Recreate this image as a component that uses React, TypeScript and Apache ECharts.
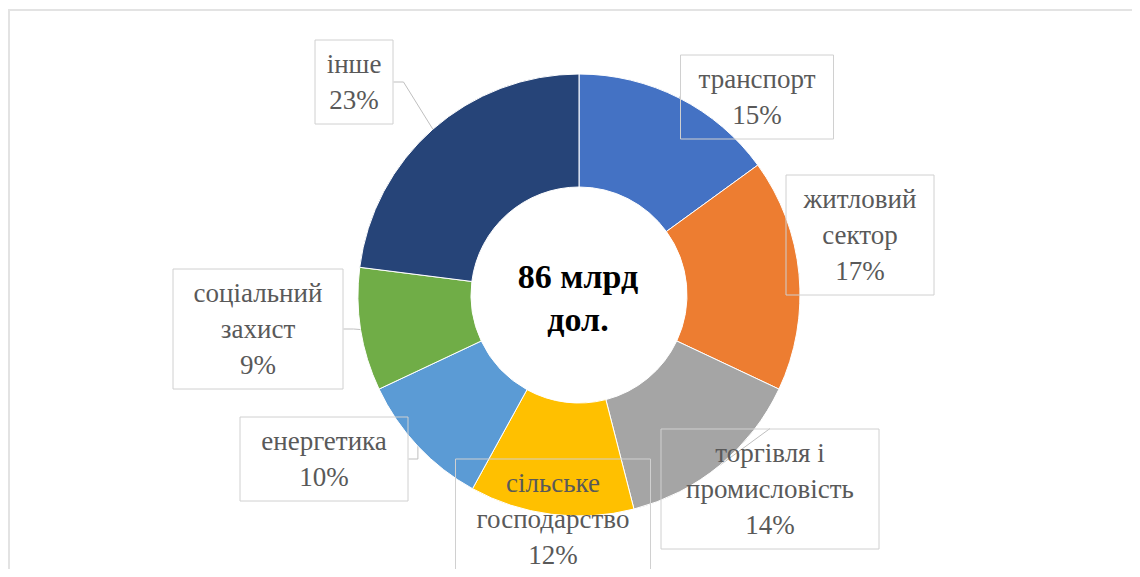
import React, { useEffect, useRef } from "react";
import * as echarts from "echarts";

const categories = [
  "транспорт",
  "житловий сектор",
  "торгівля і промисловість",
  "сільське господарство",
  "енергетика",
  "соціальний захист",
  "інше",
];
const categoryLabels = [
  "транспорт",
  "житловий\nсектор",
  "торгівля і\nпромисловість",
  "сільське\nгосподарство",
  "енергетика",
  "соціальний\nзахист",
  "інше",
];
const shares = [15, 17, 14, 12, 10, 9, 23];
const centerLines = ["86 млрд", "дол."];

const colors = ["#4472C4", "#ED7D31", "#A5A5A5", "#FFC000", "#5B9BD5", "#70AD47", "#264478"];
// label box centers (px within chart div) and content widths
const labelPos = [
  [749, 89, 145],
  [852, 227, 140],
  [762, 481, 210],
  [545, 511, 187],
  [316, 451, 160],
  [250, 321, 162],
  [346, 74, 70],
];

const SERIF = "Liberation Serif";

export default function App() {
  const ref = useRef<HTMLDivElement>(null);
  useEffect(() => {
    if (!ref.current) return;
    const chart = echarts.init(ref.current, undefined, { renderer: "svg" });
    chart.setOption({
      animation: false,
      backgroundColor: "#ffffff",
      textStyle: { fontFamily: SERIF },
      graphic: [
        { type: "line", shape: { x1: 0, y1: 2, x2: 1124, y2: 2 }, style: { stroke: "#E3E3E3", lineWidth: 2 } },
        { type: "line", shape: { x1: 1, y1: 2, x2: 1, y2: 561 }, style: { stroke: "#E3E3E3", lineWidth: 2 } },
        {
          type: "text",
          x: 570,
          y: 290,
          style: {
            text: centerLines.join("\n"),
            font: "bold 34px " + SERIF,
            fill: "#000000",
            align: "center",
            verticalAlign: "middle",
            lineHeight: 43,
          },
        },
      ],
      series: [
        {
          type: "pie",
          center: [571, 287],
          radius: [108, 221],
          startAngle: 90,
          clockwise: true,
          avoidLabelOverlap: false,
          itemStyle: { borderColor: "#ffffff", borderWidth: 1 },
          label: {
            show: true,
            position: "outside",
            formatter: (p: any) =>
              [...categoryLabels[p.dataIndex].split("\n"), `${p.value}%`].map((s) => `{t|${s}}`).join("\n"),
            rich: {
              t: {
                fontFamily: SERIF,
                fontSize: 27,
                lineHeight: 36,
                color: "#595959",
                align: "center",
              },
            },
            fontFamily: SERIF,
            fontSize: 27,
            lineHeight: 36,
            color: "#595959",
            align: "center",
            borderColor: "#D0D0D0",
            borderWidth: 1,
            padding: [6, 4],
          },
          labelLine: { show: true, lineStyle: { color: "#BFBFBF", width: 1 }, length: 10, length2: 10 },
          labelLayout: (params: any) => {
            const p = labelPos[params.dataIndex];
            return { x: p[0], y: p[1], align: "center", verticalAlign: "middle" };
          },
          data: categories.map((c, i) => ({
            name: c,
            value: shares[i],
            itemStyle: { color: colors[i] },
            label: { width: labelPos[i][2] },
          })),
        },
      ],
    });
    return () => chart.dispose();
  }, []);
  return <div ref={ref} style={{ width: 1124, height: 561 }} />;
}
